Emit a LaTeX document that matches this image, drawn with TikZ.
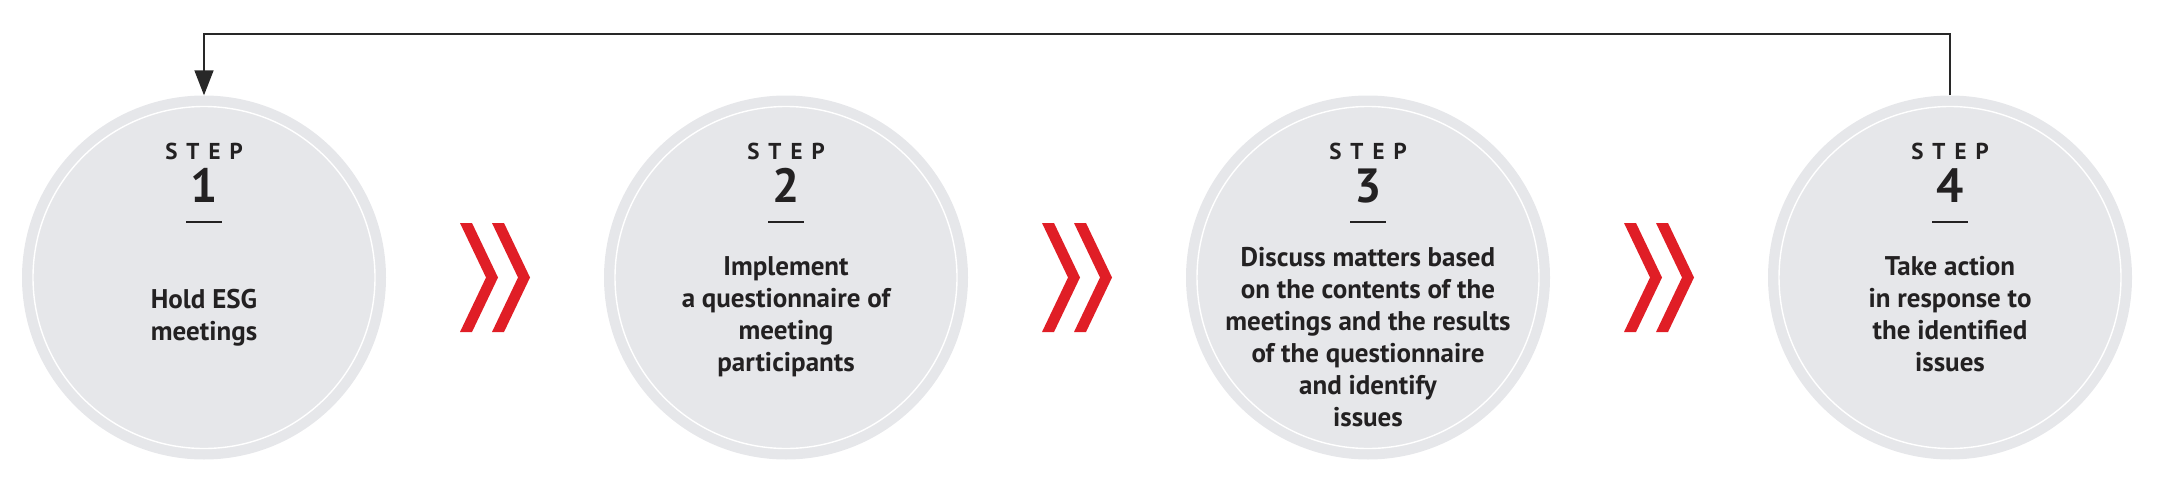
\documentclass[tikz,border=0pt]{standalone}
\usepackage{fontspec}
\setmainfont{PT Sans}
\usetikzlibrary{arrows.meta}
\definecolor{disc}{RGB}{230,231,234}
\definecolor{ink}{RGB}{35,33,34}
\definecolor{chev}{RGB}{224,30,38}
\definecolor{loopc}{RGB}{40,40,40}
\newcommand{\steplabel}{S\kern9pt T\kern9pt E\kern9pt P}
\tikzset{
  disk/.style={circle, minimum size=364pt, inner sep=0pt, fill=disc},
  ring/.style={draw=white, line width=1.4pt},
  steptag/.style={anchor=base, inner sep=0pt, text=ink, font=\fontsize{23}{23}\selectfont\bfseries},
  stepnum/.style={anchor=base, inner sep=0pt, text=ink, font=\fontsize{48}{48}\selectfont\bfseries},
  body/.style={anchor=base, inner sep=0pt, text=ink, font=\fontsize{27}{32}\selectfont\bfseries},
  rule/.style={draw=ink, line width=1.5pt},
  chevron/.style={fill=chev, draw=none},
  loop/.style={draw=loopc, line width=1.6pt, -{Triangle[width=19pt,length=25pt]}}
}
\newcommand{\blk}[1]{\setlength{\tabcolsep}{0pt}\begin{tabular}[t]{c}#1\end{tabular}}
\begin{document}
\begin{tikzpicture}[x=1pt, y=-1pt]
\useasboundingbox (0,0) rectangle (2160,487);
% discs
\foreach \i/\cx in {1/204, 2/786, 3/1368, 4/1950}{
  \node[disk] (c\i) at (\cx,277.5) {};
  \draw[ring] (c\i.center) circle (171);
  \node[steptag] (s\i) at (\cx,159) {\steplabel};
  \node[stepnum] (n\i) at (\cx,202) {\i};
  \coordinate (dl\i) at (\cx-18,222);
  \coordinate (dr\i) at (\cx+18,222);
  \draw[rule] (dl\i) -- (dr\i);
}
% body texts
\node[body] (b1) at (204,308) {\blk{Hold ESG\\meetings}};
\node[body] (b2) at (786,275) {\blk{Implement\\a questionnaire of\\meeting\\participants}};
\node[body] (b3) at (1368,266) {\blk{Discuss matters based\\on the contents of the\\meetings and the results\\of the questionnaire\\and identify\\issues}};
\node[body] (b4) at (1950,275) {\blk{Take action\\in response to\\the identified\\issues}};
% chevrons
\foreach \j/\mx in {1/495, 2/1077, 3/1659}{
  \foreach \k/\off in {a/-35, b/-3}{
    \fill[chevron] (\mx+\off,223) -- (\mx+\off+12,223) -- (\mx+\off+38,277.5)
      -- (\mx+\off+12,332) -- (\mx+\off,332) -- (\mx+\off+26,277.5) -- cycle;
  }
}
% feedback loop
\coordinate (top4) at (1950,34.3);
\coordinate (top1) at (204,34.3);
\draw[loop] (c4.north) -- (top4) -- (top1) -- (c1.north);
\end{tikzpicture}
\end{document}
